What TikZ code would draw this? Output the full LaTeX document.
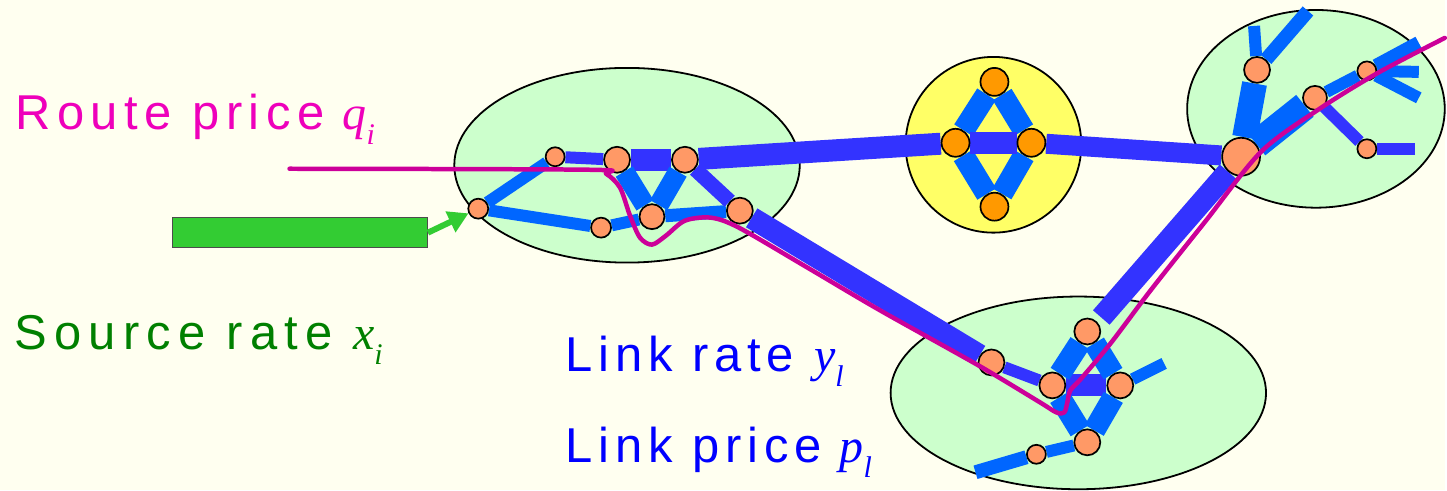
\documentclass[tikz,border=0pt]{standalone}
\usepackage{fontspec}
\setmainfont{Liberation Sans}
\newfontfamily\tms{Liberation Serif}
\usetikzlibrary{arrows.meta,shapes.geometric}
\definecolor{bg}{HTML}{FFFFF0}
\definecolor{ellg}{HTML}{CCFFCC}
\definecolor{elly}{HTML}{FFFF66}
\definecolor{salmon}{HTML}{FF9966}
\definecolor{orng}{HTML}{FF9900}
\definecolor{lblue}{HTML}{0066FF}
\definecolor{vblue}{HTML}{3333FF}
\definecolor{routeline}{HTML}{CC0099}
\definecolor{routetext}{HTML}{EE00BB}
\definecolor{srcgreen}{HTML}{008000}
\definecolor{bargreen}{HTML}{33CC33}
\definecolor{linkblue}{HTML}{0000FF}
\pgfdeclarelayer{areas}
\pgfdeclarelayer{links}
\pgfdeclarelayer{top}
\pgfsetlayers{areas,links,main,top}
\tikzset{
  area/.style={ellipse, draw=black, line width=1.8pt, fill=ellg, inner sep=0pt},
  router/.style={circle, draw=black, line width=1.7pt, fill=salmon, inner sep=0pt, minimum size=#1},
  orouter/.style={circle, draw=black, line width=1.7pt, fill=orng, inner sep=0pt, minimum size=#1},
  lb/.style={draw=lblue, line width=#1},
  vb/.style={draw=vblue, line width=#1},
  route/.style={draw=routeline, line width=4.5pt, line cap=round, line join=round},
  lbl/.style={anchor=base west, inner sep=0pt},
}
\newcommand{\itl}[1]{{\fontsize{48}{48}\selectfont\tms\itshape #1}}
\newcommand{\subsc}[1]{\raisebox{-15pt}{\fontsize{30}{30}\selectfont\tms\itshape #1}}
\begin{document}
\begin{tikzpicture}[x=1pt,y=-1pt]
\begin{pgfonlayer}{areas}
\useasboundingbox[fill=bg] (0,0) rectangle (1447,491);
\node[area, minimum width=346pt, minimum height=195pt] (e1) at (628,165.5) {};
\node[area, fill=elly, circle, minimum size=176pt] (e2) at (995,145) {};
\node[area, minimum width=258pt, minimum height=198pt] (e3) at (1318,109) {};
\node[area, minimum width=376pt, minimum height=193pt] (e4) at (1080,393.5) {};
\end{pgfonlayer}

% routers (area 1)
\node[router=20pt] (A) at (479,209) {};
\node[router=19pt] (B) at (556,157) {};
\node[router=26pt] (C) at (618,160) {};
\node[router=26pt] (D) at (686,160) {};
\node[router=25pt] (E) at (653,217) {};
\node[router=20pt] (F) at (602,228) {};
\node[router=26pt] (G) at (741,211) {};
% yellow
\node[orouter=28pt] (Y1) at (996,82) {};
\node[orouter=28pt] (Yl) at (957,143) {};
\node[orouter=28pt] (Yr) at (1033,143) {};
\node[orouter=28pt] (Yb) at (996,207) {};
% top right
\node[router=38pt] (T0) at (1243,157) {};
\node[router=26pt] (T1) at (1259,70) {};
\node[router=24pt] (T2) at (1317,98) {};
\node[router=19pt] (T3) at (1369,71) {};
\node[router=19pt] (T4) at (1369,149) {};
% bottom
\node[router=26pt] (H) at (993,363) {};
\node[router=26pt] (I) at (1054,386) {};
\node[router=26pt] (J) at (1089,332) {};
\node[router=26pt] (K) at (1122,386) {};
\node[router=26pt] (L) at (1089,443) {};
\node[router=19pt] (M) at (1038,455) {};

% free stub ends
\coordinate (t1a) at (1256,26);
\coordinate (t1b) at (1310,11);
\coordinate (t3a) at (1421,43);
\coordinate (t3b) at (1421,72);
\coordinate (t3c) at (1421,98);
\coordinate (t4a) at (1417,149);
\coordinate (t0d) at (1103,318);
\coordinate (k1) at (1166,364);
\coordinate (m1) at (977,473);

\begin{pgfonlayer}{links}
\path[lb=12pt] (A) -- (B);
\path[lb=12pt] (A) -- (F);
\path[lb=12pt] (F) -- (E);
\path[vb=12pt] (B) -- (C);
\path[vb=22pt] (C) -- (D);
\path[lb=20pt] (C) -- (E);
\path[lb=20pt] (D) -- (E);
\path[lb=13pt] (E) -- (G);
\path[vb=15pt] (D) -- (G);
\path[vb=22pt] (D) -- (Yl);
\path[vb=22pt] (G) -- (H);
\path[lb=22pt] (Yl) -- (Y1);
\path[lb=22pt] (Y1) -- (Yr);
\path[lb=22pt] (Yl) -- (Yb);
\path[lb=22pt] (Yb) -- (Yr);
\path[vb=22pt] (Yl) -- (Yr);
\path[vb=20pt] (Yr) -- (T0);
\path[vb=22pt] (T0) -- (t0d);
\path[lb=25pt] (T0) -- (T1);
\path[lb=28pt] (T0) -- (T2);
\path[lb=12pt] (T1) -- (t1a);
\path[lb=14pt] (T1) -- (t1b);
\path[lb=12pt] (T2) -- (T3);
\path[lb=14pt] (T3) -- (t3a);
\path[lb=12pt] (T3) -- (t3b);
\path[lb=12pt] (T3) -- (t3c);
\path[vb=12pt] (T2) -- (T4);
\path[vb=12pt] (T4) -- (t4a);
\path[vb=12pt] (H) -- (I);
\path[vb=22pt] (I) -- (K);
\path[lb=22pt] (I) -- (J);
\path[lb=22pt] (J) -- (K);
\path[lb=22pt] (I) -- (L);
\path[lb=22pt] (L) -- (K);
\path[lb=12pt] (K) -- (k1);
\path[lb=12pt] (L) -- (M);
\path[lb=14pt] (M) -- (m1);
\end{pgfonlayer}

\begin{pgfonlayer}{top}
\draw[route] plot[smooth, tension=0.5] coordinates {(290,169) (590,170) (607,174) (621,188) (631,216) (641,238) (653,245) (667,236) (686,221) (712,218) (740,228) (807,267) (880,310) (980,366) (1040,402) (1058,413) (1066,413) (1069,403) (1072,391) (1083,379) (1113,343) (1153,290) (1207,222) (1263,152) (1320,110) (1380,73) (1447,38)};
\node[draw=black!70, line width=1.2pt, fill=bargreen, minimum width=255pt, minimum height=30pt, inner sep=0pt] (bar) at (300.5,233) {};
\draw[draw=bargreen, line width=6pt, -{Triangle[length=20pt,width=22pt]}] (bar.east) -- (A);
\end{pgfonlayer}

% labels
\node[lbl, text=routetext, font=\fontsize{49}{56}\selectfont\addfontfeatures{LetterSpace=13.5}] (rp) at (15,130) {Route price\hspace{18pt}\itl{q}\subsc{i}};
\node[lbl, text=srcgreen, font=\fontsize{49}{56}\selectfont\addfontfeatures{LetterSpace=15}] (sr) at (14,350) {Source rate\hspace{20pt}\itl{x}\subsc{i}};
\node[lbl, text=linkblue, font=\fontsize{49}{56}\selectfont\addfontfeatures{LetterSpace=12}] (lr) at (566,372) {Link rate\hspace{20pt}\itl{y}\subsc{l}};
\node[lbl, text=linkblue, font=\fontsize{49}{56}\selectfont\addfontfeatures{LetterSpace=12}] (lp) at (566,463) {Link price\hspace{18pt}\itl{p}\subsc{l}};
\end{tikzpicture}
\end{document}
